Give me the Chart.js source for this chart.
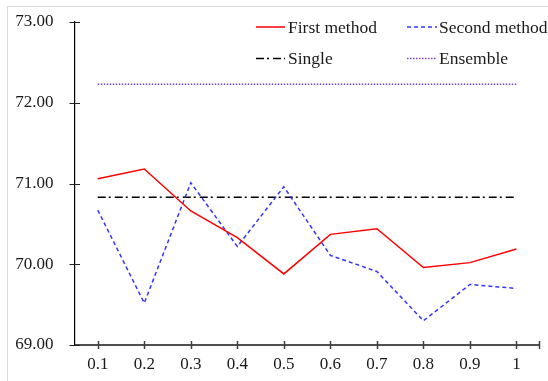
<!DOCTYPE html>
<html><head><meta charset="utf-8">
<script src="https://cdn.jsdelivr.net/npm/chart.js@4/dist/chart.umd.min.js"></script>
<style>html,body{margin:0;padding:0;background:#fff}canvas{display:block}</style>
</head><body>
<canvas id="c" width="548" height="381"></canvas>
<script>
const categories = ['0.1','0.2','0.3','0.4','0.5','0.6','0.7','0.8','0.9','1'];
const firstMethod = [71.06, 71.18, 70.66, 70.33, 69.88, 70.37, 70.44, 69.96, 70.02, 70.19];
const secondMethod = [70.67, 69.52, 71.01, 70.22, 70.96, 70.11, 69.91, 69.30, 69.75, 69.70];
const single = [70.83, 70.83, 70.83, 70.83, 70.83, 70.83, 70.83, 70.83, 70.83, 70.83];
const ensemble = [72.23, 72.23, 72.23, 72.23, 72.23, 72.23, 72.23, 72.23, 72.23, 72.23];
const seriesNames = ['First method', 'Second method', 'Single', 'Ensemble'];
const yTickValues = [69, 70, 71, 72, 73];

const FONT = "'Liberation Serif', 'Times New Roman', serif";
const TEXT = '#1a1a1a';

const frame = {
  id: 'frame',
  beforeDraw(chart) {
    const c = chart.ctx;
    c.save();
    c.fillStyle = '#fff';
    c.fillRect(0, 0, chart.width, chart.height);
    c.strokeStyle = '#d9d9d9';
    c.lineWidth = 1;
    c.strokeRect(7.5, 6.5, chart.width + 20, chart.height + 20);
    c.restore();
  }
};

const crossTicks = {
  id: 'crossTicks',
  afterDraw(chart) {
    const c = chart.ctx, x = chart.scales.x, y = chart.scales.y, a = chart.chartArea;
    c.save();
    c.lineWidth = 1.5;
    c.strokeStyle = '#404040';
    c.beginPath();
    for (let i = 0; i < x.ticks.length; i++) {
      const px = Math.round(x.getPixelForTick(i)) + 0.5;
      c.moveTo(px, a.bottom - 4); c.lineTo(px, a.bottom + 4);
    }
    const rx = Math.round(a.right) - 0.5;
    c.moveTo(rx, a.bottom - 4); c.lineTo(rx, a.bottom + 4);
    c.stroke();
    c.lineWidth = 1.2;
    c.strokeStyle = '#202020';
    c.beginPath();
    for (let i = 0; i < y.ticks.length; i++) {
      const py = Math.round(y.getPixelForTick(i)) + 0.5;
      c.moveTo(a.left - 5, py); c.lineTo(a.left + 5.5, py);
    }
    c.stroke();
    c.restore();
  }
};

const gridLegend = {
  id: 'gridLegend',
  afterDraw(chart) {
    const c = chart.ctx;
    const cols = [{x0: 256, x1: 285, tx: 288}, {x0: 407, x1: 437, tx: 439}];
    const rows = [27, 58.5];
    c.save();
    c.font = '17.5px ' + FONT;
    c.textBaseline = 'middle';
    c.textAlign = 'left';
    chart.data.datasets.forEach((ds, i) => {
      const col = cols[i % 2], yy = rows[Math.floor(i / 2)];
      c.strokeStyle = ds.borderColor;
      c.lineWidth = ds.borderWidth;
      c.setLineDash(ds.borderDash || []);
      c.beginPath();
      c.moveTo(col.x0, yy); c.lineTo(col.x1, yy);
      c.stroke();
      c.setLineDash([]);
      c.fillStyle = TEXT;
      c.fillText(ds.label, col.tx, yy + 1);
    });
    c.restore();
  }
};

new Chart(document.getElementById('c'), {
  type: 'line',
  data: {
    labels: categories,
    datasets: [
      {label: seriesNames[0], data: firstMethod, borderColor: '#ff0000', borderWidth: 1.5, borderDash: []},
      {label: seriesNames[1], data: secondMethod, borderColor: '#3333ff', borderWidth: 1.5, borderDash: [4, 3]},
      {label: seriesNames[2], data: single, borderColor: '#000000', borderWidth: 1.3, borderDash: [8, 3, 2, 4]},
      {label: seriesNames[3], data: ensemble, borderColor: '#8040c8', borderWidth: 1.5, borderDash: [1.5, 1.5]}
    ]
  },
  options: {
    responsive: false,
    animation: false,
    devicePixelRatio: 1,
    layout: {padding: {left: 0, top: 22, right: 8.3, bottom: 0}},
    elements: {point: {radius: 0}, line: {tension: 0}},
    plugins: {legend: {display: false}, tooltip: {enabled: false}},
    scales: {
      x: {
        type: 'category',
        offset: true,
        grid: {display: false, drawTicks: false},
        border: {display: true, color: '#505050', width: 2},
        ticks: {color: TEXT, font: {family: FONT, size: 17}, padding: 9, maxRotation: 0, autoSkip: false},
        afterFit(s) { s.height = 36; s.paddingLeft = 0; s.paddingRight = 0; }
      },
      y: {
        min: 69, max: 73,
        grid: {display: false, drawTicks: false},
        border: {display: true, color: '#000000', width: 1.2},
        afterBuildTicks(s) { s.ticks = yTickValues.map(v => ({value: v})); },
        ticks: {color: TEXT, font: {family: FONT, size: 17}, padding: 21, callback: v => Number(v).toFixed(2)},
        afterFit(s) { s.width = 74.5; s.paddingTop = 0; s.paddingBottom = 0; }
      }
    }
  },
  plugins: [frame, crossTicks, gridLegend]
});
</script>
</body></html>
